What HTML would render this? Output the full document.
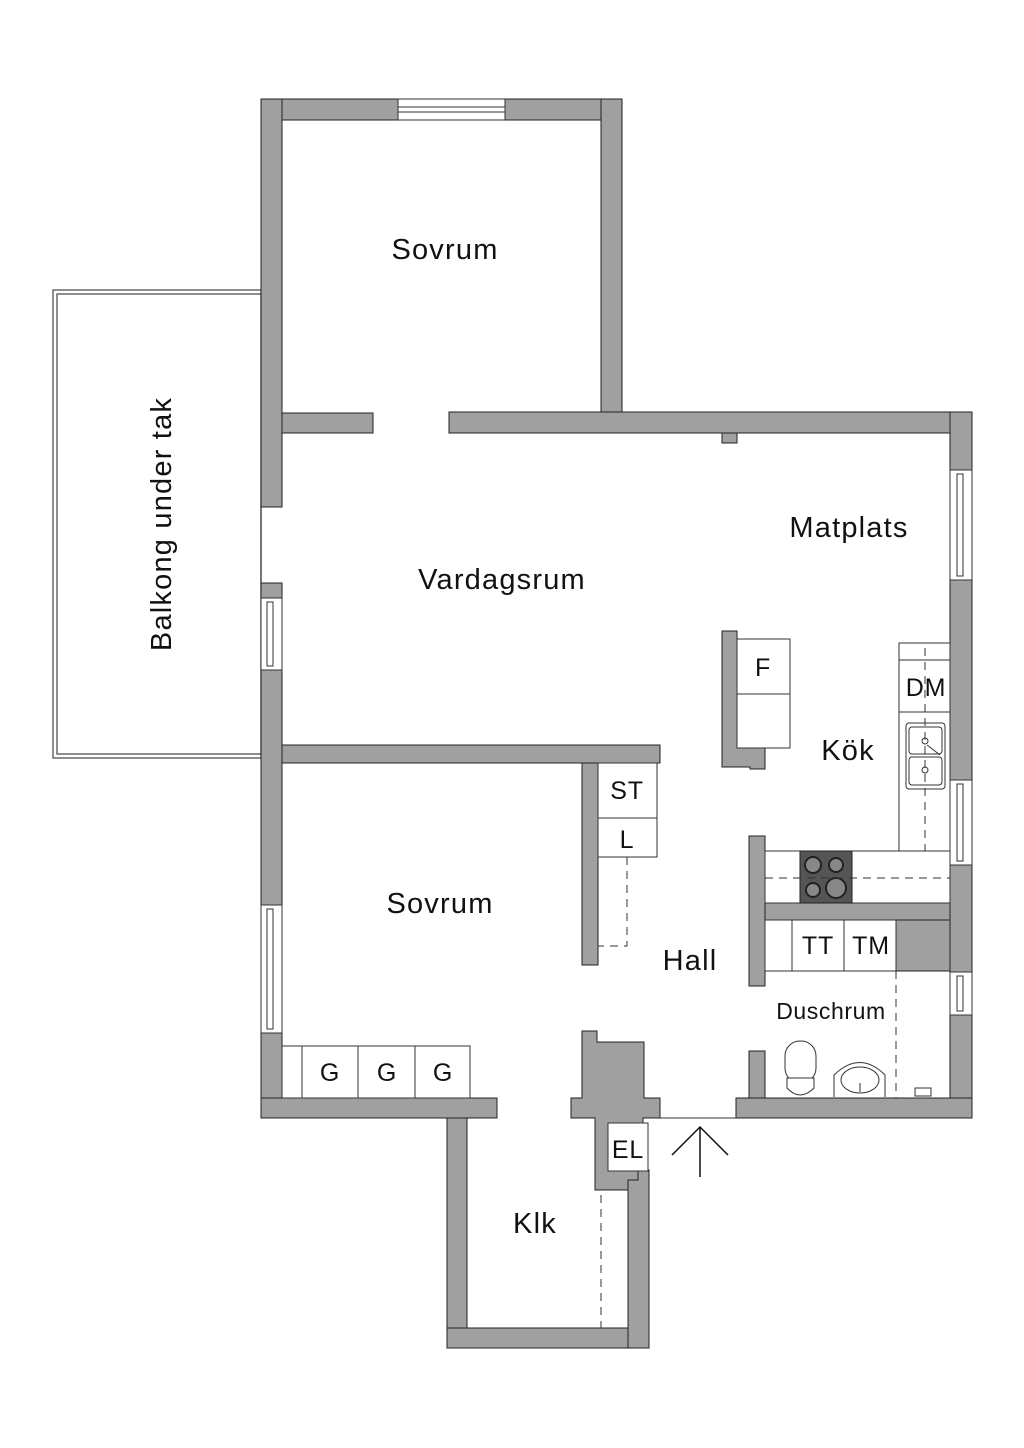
<!DOCTYPE html>
<html><head><meta charset="utf-8"><style>
html,body{margin:0;padding:0;background:#fff}
svg{display:block}
text{font-family:"Liberation Sans",sans-serif;fill:#111}
</style></head><body>
<svg width="1024" height="1448" viewBox="0 0 1024 1448" xmlns="http://www.w3.org/2000/svg">
<rect x="53" y="290" width="208" height="468" fill="#fff" stroke="#444" stroke-width="1.2"/>
<rect x="57" y="294" width="204" height="460" fill="none" stroke="#444" stroke-width="1.2"/>
<text x="0" y="0" font-size="29" letter-spacing="1.2" text-anchor="middle" transform="translate(171,524) rotate(-90)">Balkong under tak</text>

<g fill="#a0a0a0" stroke="#222" stroke-width="1">
<rect x="261" y="99" width="361" height="21"/>
<rect x="601" y="99" width="21" height="334"/>
<rect x="261" y="99" width="21" height="408"/>
<rect x="282" y="413" width="91" height="20"/>
<rect x="449" y="412" width="523" height="21"/>
<rect x="722" y="433" width="15" height="10"/>
<rect x="261" y="583" width="21" height="15"/>
<rect x="261" y="670" width="21" height="235"/>
<rect x="261" y="1033" width="21" height="85"/>
<rect x="950" y="412" width="22" height="58"/>
<rect x="950" y="580" width="22" height="200"/>
<rect x="950" y="865" width="22" height="107"/>
<rect x="950" y="1015" width="22" height="103"/>
<rect x="261" y="1098" width="236" height="20"/>
<rect x="736" y="1098" width="236" height="20"/>
<rect x="447" y="1118" width="20" height="230"/>
<rect x="447" y="1328" width="202" height="20"/>
<rect x="628" y="1170" width="21" height="178"/>
<rect x="282" y="745" width="378" height="18"/>
<rect x="582" y="763" width="16" height="202"/>
<path d="M722 631 H737 V748 H765 V769 H750 V767 H722 Z"/>
<rect x="749" y="836" width="16" height="150"/>
<rect x="749" y="1051" width="16" height="47"/>
<rect x="765" y="903" width="185" height="17"/>
<rect x="896" y="920" width="54" height="51"/>
<path d="M582 1031 H597 V1042 H644 V1098 H660 V1118 H643 V1123 H608 V1171 H638 V1180 H628 V1190 H595 V1118 H571 V1098 H582 Z"/>
</g>
<g fill="#fff" stroke="#333" stroke-width="1">
<rect x="398" y="99" width="107" height="21"/>
<rect x="398" y="107" width="107" height="5"/>
<rect x="261" y="598" width="21" height="72"/><rect x="267" y="602" width="6" height="64"/>
<rect x="261" y="905" width="21" height="128"/><rect x="267" y="909" width="6" height="120"/>
<rect x="950" y="470" width="22" height="110"/><rect x="957" y="474" width="6" height="102"/>
<rect x="950" y="780" width="22" height="85"/><rect x="957" y="784" width="6" height="77"/>
<rect x="950" y="972" width="22" height="43"/><rect x="957" y="976" width="6" height="35"/>
</g>
<line x1="261" y1="507" x2="261" y2="583" stroke="#333"/>
<line x1="660" y1="1118" x2="736" y2="1118" stroke="#333"/>
<g fill="#fff" stroke="#333" stroke-width="1">
<rect x="598" y="763" width="59" height="55"/><rect x="598" y="818" width="59" height="39"/>
<rect x="737" y="639" width="53" height="55"/><rect x="737" y="694" width="53" height="54"/>
<rect x="899" y="643" width="51" height="17"/><rect x="899" y="660" width="51" height="52"/><rect x="899" y="712" width="51" height="139"/>
<rect x="765" y="851" width="185" height="52"/>
<rect x="765" y="920" width="27" height="51"/><rect x="792" y="920" width="52" height="51"/><rect x="844" y="920" width="52" height="51"/>
<rect x="282" y="1046" width="20" height="52"/><rect x="302" y="1046" width="56" height="52"/><rect x="358" y="1046" width="57" height="52"/><rect x="415" y="1046" width="55" height="52"/>
<rect x="608" y="1123" width="40" height="48"/>
</g>
<rect x="906" y="723" width="39" height="66" rx="3" fill="#fff" stroke="#333"/>
<rect x="909" y="727" width="33" height="27" rx="3" fill="#fff" stroke="#333"/>
<rect x="909" y="757" width="33" height="28" rx="3" fill="#fff" stroke="#333"/>
<circle cx="925" cy="741" r="3" fill="none" stroke="#333"/><circle cx="925" cy="770" r="3" fill="none" stroke="#333"/>
<line x1="927" y1="745" x2="940" y2="755" stroke="#333"/>
<rect x="800" y="851" width="52" height="52" fill="#555" stroke="#222"/>
<g fill="#888" stroke="#222" stroke-width="2">
<circle cx="813" cy="865" r="8"/><circle cx="836" cy="865" r="7"/><circle cx="813" cy="890" r="7"/><circle cx="836" cy="888" r="10"/>
</g>
<g stroke="#333" stroke-dasharray="8,6" fill="none">
<path d="M627 857 V946 H598"/>
<path d="M925 648 V851"/>
<path d="M765 878 H950"/>
<path d="M896 971 V1098"/>
<path d="M601 1195 V1328"/>
</g>
<g fill="#fff" stroke="#333">
<rect x="785" y="1041" width="31" height="42" rx="15"/>
<path d="M787 1078 H814 V1088 Q800 1102 787 1088 Z"/>
<path d="M834 1097 V1075 Q860 1050 885 1075 V1097"/>
<ellipse cx="860" cy="1080" rx="19" ry="13"/>
<line x1="860" y1="1083" x2="860" y2="1092"/>
<rect x="915" y="1088" width="16" height="8"/>
</g>
<g stroke="#111" stroke-width="1.5" fill="none">
<line x1="700" y1="1128" x2="700" y2="1177"/>
<polyline points="672,1155 700,1127 728,1155"/>
</g>
<g font-size="29" letter-spacing="1.2" text-anchor="middle">
<text x="445" y="259">Sovrum</text>
<text x="502" y="589">Vardagsrum</text>
<text x="849" y="537">Matplats</text>
<text x="848" y="760">Kök</text>
<text x="440" y="913">Sovrum</text>
<text x="690" y="970">Hall</text>
<text x="535" y="1233">Klk</text>
</g>
<g font-size="25" letter-spacing="0.8" text-anchor="middle">
<text x="763" y="676">F</text>
<text x="926" y="696">DM</text>
<text x="627" y="799">ST</text>
<text x="627" y="848">L</text>
<text x="818" y="954">TT</text>
<text x="871" y="954">TM</text>
<text x="330" y="1081">G</text>
<text x="387" y="1081">G</text>
<text x="443" y="1081">G</text>
<text x="628" y="1158">EL</text>
</g>
<text x="831" y="1019" font-size="23" letter-spacing="0.6" text-anchor="middle">Duschrum</text>
</svg>
</body></html>
